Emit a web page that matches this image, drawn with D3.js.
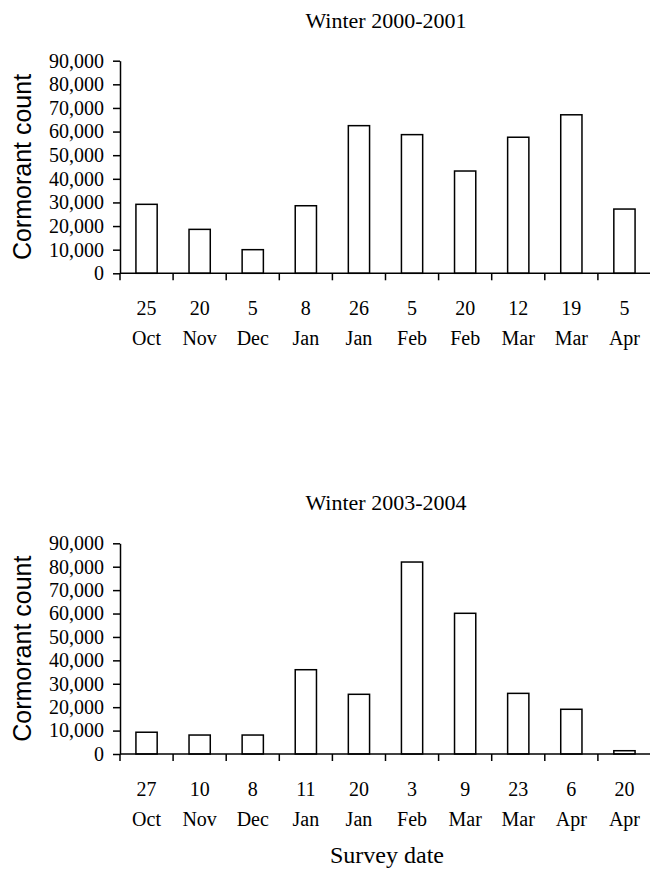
<!DOCTYPE html>
<html>
<head>
<meta charset="utf-8">
<script src="https://cdn.jsdelivr.net/npm/d3@7"></script>
<style>
  body { margin: 0; background: #fff; }
  svg { display: block; }
</style>
</head>
<body>
<div class="chart"></div>
<script>
// data
var days2000 = ["25", "20", "5", "8", "26", "5", "20", "12", "19", "5"];
var months2000 = ["Oct", "Nov", "Dec", "Jan", "Jan", "Feb", "Feb", "Mar", "Mar", "Apr"];
var counts2000 = [29200, 18600, 10000, 28600, 62500, 58700, 43300, 57600, 67100, 27200];

var days2003 = ["27", "10", "8", "11", "20", "3", "9", "23", "6", "20"];
var months2003 = ["Oct", "Nov", "Dec", "Jan", "Jan", "Feb", "Mar", "Mar", "Apr", "Apr"];
var counts2003 = [9300, 8100, 8100, 36000, 25500, 82000, 60100, 25900, 19100, 1400];

var yTicks = [0, 10000, 20000, 30000, 40000, 50000, 60000, 70000, 80000, 90000];

var w = 650;
var h = 871;
var serif = "'Liberation Serif', 'Times New Roman', serif";
var sans = "'Liberation Sans', Arial, sans-serif";

var svg = d3.select(".chart")
    .append("svg")
    .attr("width", w)
    .attr("height", h);

function drawPanel(title, days, months, counts, top, bottom, titleY) {
    var idx = d3.range(counts.length);

    var x = d3.scaleBand()
        .domain(idx)
        .range([120, 651])
        .paddingInner(0.6)
        .paddingOuter(0.3);

    var y = d3.scaleLinear()
        .domain([0, 90000])
        .range([bottom, top]);

    var g = svg.append("g");

    // title
    g.append("text")
        .attr("x", 386)
        .attr("y", titleY)
        .attr("text-anchor", "middle")
        .style("font-family", serif)
        .style("font-size", "22px")
        .text(title);

    // bars
    g.selectAll("rect")
        .data(counts)
        .enter()
        .append("rect")
        .attr("x", function (d, i) { return x(i); })
        .attr("y", function (d) { return y(d); })
        .attr("width", x.bandwidth())
        .attr("height", function (d) { return y(0) - y(d); })
        .attr("fill", "#fff")
        .attr("stroke", "#000")
        .attr("stroke-width", 1.5);

    // y axis
    var yAxis = g.append("g")
        .attr("transform", "translate(120,0)")
        .call(d3.axisLeft(y)
            .tickValues(yTicks)
            .tickSize(7)
            .tickSizeOuter(0)
            .tickPadding(9)
            .tickFormat(d3.format(",")));
    yAxis.selectAll("path, line").attr("stroke", "#000").attr("stroke-width", 1.5);
    yAxis.selectAll("text")
        .attr("fill", "#000")
        .style("font-family", serif)
        .style("font-size", "20px");

    // x axis line with ticks between categories
    var step = x.step();
    var bounds = d3.range(counts.length + 1).map(function (i) { return 120 + i * step; });
    g.append("line")
        .attr("x1", 120).attr("x2", 651)
        .attr("y1", y(0)).attr("y2", y(0))
        .attr("stroke", "#000").attr("stroke-width", 1.5);
    g.selectAll(".xtick")
        .data(bounds)
        .enter()
        .append("line")
        .attr("class", "xtick")
        .attr("x1", function (d) { return d; })
        .attr("x2", function (d) { return d; })
        .attr("y1", y(0))
        .attr("y2", y(0) + 7)
        .attr("stroke", "#000").attr("stroke-width", 1.5);

    // x labels, two lines
    g.selectAll(".day")
        .data(days)
        .enter()
        .append("text")
        .attr("class", "day")
        .attr("x", function (d, i) { return x(i) + x.bandwidth() / 2; })
        .attr("y", y(0) + 42)
        .attr("text-anchor", "middle")
        .style("font-family", serif)
        .style("font-size", "20px")
        .text(function (d) { return d; });
    g.selectAll(".month")
        .data(months)
        .enter()
        .append("text")
        .attr("class", "month")
        .attr("x", function (d, i) { return x(i) + x.bandwidth() / 2; })
        .attr("y", y(0) + 72)
        .attr("text-anchor", "middle")
        .style("font-family", serif)
        .style("font-size", "20px")
        .text(function (d) { return d; });

    // y axis title
    g.append("text")
        .attr("transform", "translate(31," + ((top + bottom) / 2) + ") rotate(-90)")
        .attr("text-anchor", "middle")
        .style("font-family", sans)
        .style("font-size", "25px")
        .text("Cormorant count");
}

drawPanel("Winter 2000-2001", days2000, months2000, counts2000, 60.7, 273.3, 28);
drawPanel("Winter 2003-2004", days2003, months2003, counts2003, 543.3, 754, 510);

svg.append("text")
    .attr("x", 387)
    .attr("y", 863)
    .attr("text-anchor", "middle")
    .style("font-family", serif)
    .style("font-size", "24px")
    .text("Survey date");
</script>
</body>
</html>
